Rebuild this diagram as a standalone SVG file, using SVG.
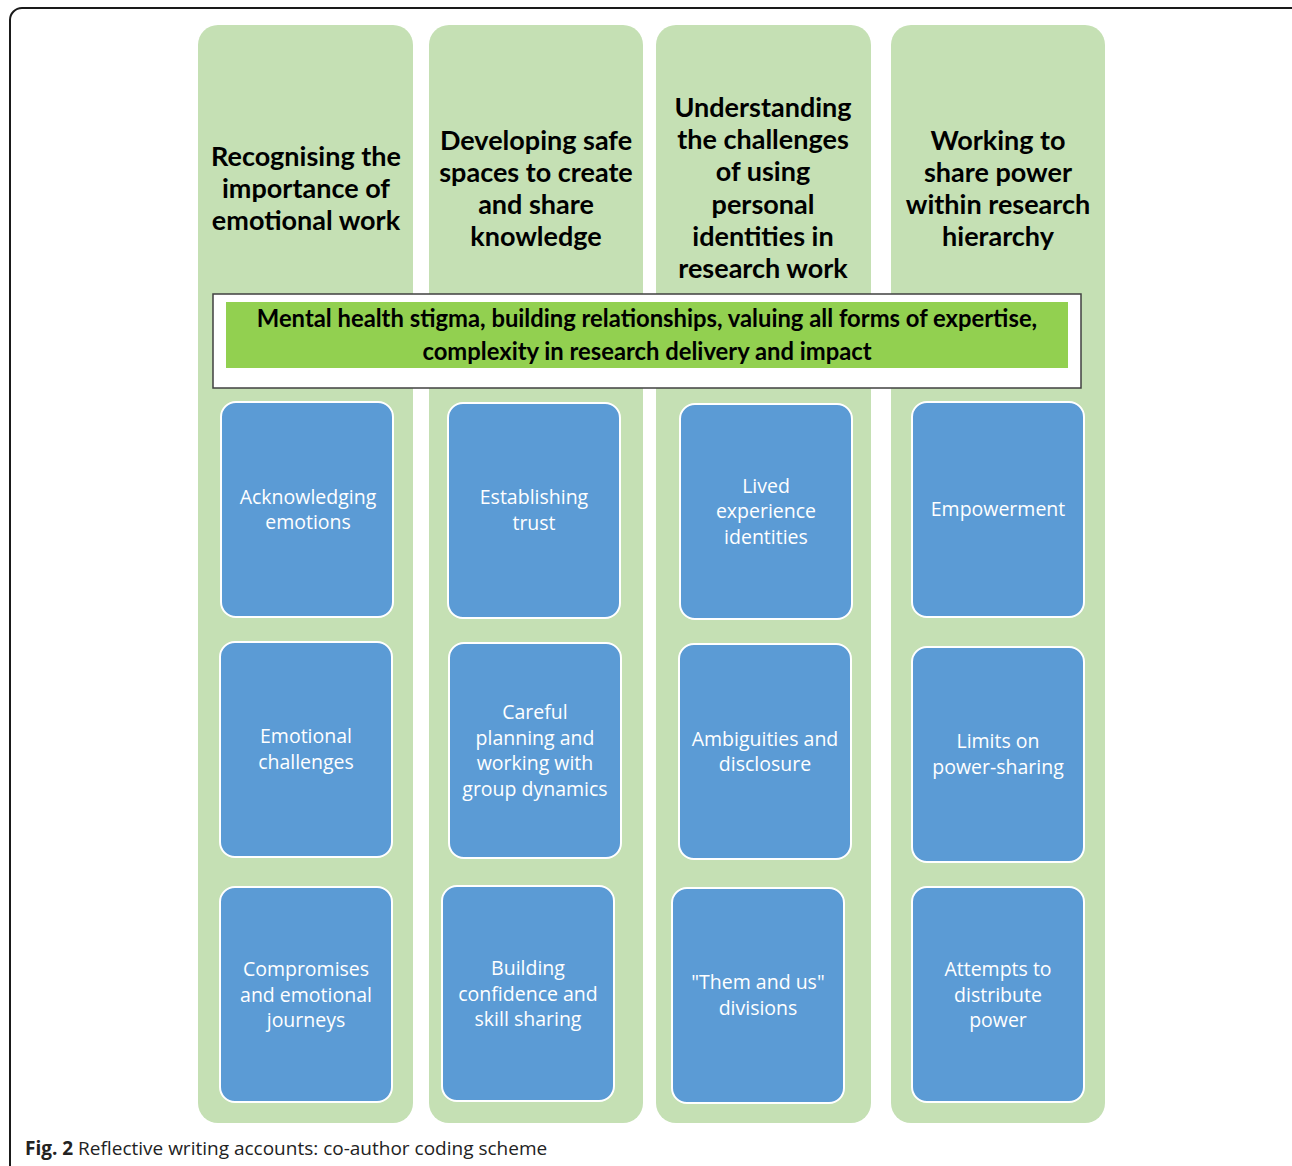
<svg xmlns="http://www.w3.org/2000/svg" width="1292" height="1166" viewBox="0 0 1292 1166">
<style>
.frame{fill:#fff;stroke:#1a1a1a;stroke-width:2}
.col{fill:#c5e0b4}
.box{fill:#5b9bd5;stroke:#fff;stroke-width:2}
.title{font-family:Lato,"Open Sans",sans-serif;font-weight:bold;font-size:27px;fill:#000;text-anchor:middle}
.lbl{font-family:"Open Sans","Noto Sans",sans-serif;font-size:19.5px;fill:#fff;text-anchor:middle}
.ban{font-family:Lato,"Open Sans",sans-serif;font-weight:bold;font-size:23.8px;fill:#000;text-anchor:middle}
.cap{font-family:"Open Sans","Noto Sans",sans-serif;font-size:19px;fill:#222}
</style>
<rect class="frame" x="10" y="8" width="1300" height="1170" rx="12"/>
<g id="col1">
<rect class="col" x="198" y="25" width="215" height="1098" rx="20"/>
<text class="title" x="306"><tspan x="306" y="166">Recognising the</tspan><tspan x="306" y="198">importance of</tspan><tspan x="306" y="230">emotional work</tspan></text>
</g>
<g id="col2">
<rect class="col" x="429" y="25" width="214" height="1098" rx="20"/>
<text class="title" x="536"><tspan x="536" y="150">Developing safe</tspan><tspan x="536" y="182">spaces to create</tspan><tspan x="536" y="214">and share</tspan><tspan x="536" y="246">knowledge</tspan></text>
</g>
<g id="col3">
<rect class="col" x="656" y="25" width="215" height="1098" rx="20"/>
<text class="title" x="763"><tspan x="763" y="117">Understanding</tspan><tspan x="763" y="149">the challenges</tspan><tspan x="763" y="181">of using</tspan><tspan x="763" y="214">personal</tspan><tspan x="763" y="246">identities in</tspan><tspan x="763" y="278">research work</tspan></text>
</g>
<g id="col4">
<rect class="col" x="891" y="25" width="214" height="1098" rx="20"/>
<text class="title" x="998"><tspan x="998" y="150">Working to</tspan><tspan x="998" y="182">share power</tspan><tspan x="998" y="214">within research</tspan><tspan x="998" y="246">hierarchy</tspan></text>
</g>
<g id="banner">
<rect x="213" y="294" width="868" height="94" fill="#fff" stroke="#404040" stroke-width="1.5"/>
<rect x="226" y="302" width="842" height="66" fill="#92d050"/>
<text class="ban"><tspan x="647" y="327">Mental health stigma, building relationships, valuing all forms of expertise,</tspan><tspan x="647" y="360">complexity in research delivery and impact</tspan></text>
</g>
<g id="n1a"><rect class="box" x="221" y="402" width="172" height="215" rx="15"/><text class="lbl"><tspan x="308" y="504">Acknowledging</tspan><tspan x="308" y="529">emotions</tspan></text></g>
<g id="n1b"><rect class="box" x="220" y="642" width="172" height="215" rx="15"/><text class="lbl"><tspan x="306" y="743">Emotional</tspan><tspan x="306" y="769">challenges</tspan></text></g>
<g id="n1c"><rect class="box" x="220" y="887" width="172" height="215" rx="15"/><text class="lbl"><tspan x="306" y="976">Compromises</tspan><tspan x="306" y="1002">and emotional</tspan><tspan x="306" y="1027">journeys</tspan></text></g>
<g id="n2a"><rect class="box" x="448" y="403" width="172" height="215" rx="15"/><text class="lbl"><tspan x="534" y="504">Establishing</tspan><tspan x="534" y="530">trust</tspan></text></g>
<g id="n2b"><rect class="box" x="449" y="643" width="172" height="215" rx="15"/><text class="lbl"><tspan x="535" y="719">Careful</tspan><tspan x="535" y="745">planning and</tspan><tspan x="535" y="770">working with</tspan><tspan x="535" y="796">group dynamics</tspan></text></g>
<g id="n2c"><rect class="box" x="442" y="886" width="172" height="215" rx="15"/><text class="lbl"><tspan x="528" y="975">Building</tspan><tspan x="528" y="1001">confidence and</tspan><tspan x="528" y="1026">skill sharing</tspan></text></g>
<g id="n3a"><rect class="box" x="680" y="404" width="172" height="215" rx="15"/><text class="lbl"><tspan x="766" y="493">Lived</tspan><tspan x="766" y="518">experience</tspan><tspan x="766" y="544">identities</tspan></text></g>
<g id="n3b"><rect class="box" x="679" y="644" width="172" height="215" rx="15"/><text class="lbl"><tspan x="765" y="746">Ambiguities and</tspan><tspan x="765" y="771">disclosure</tspan></text></g>
<g id="n3c"><rect class="box" x="672" y="888" width="172" height="215" rx="15"/><text class="lbl"><tspan x="758" y="989">"Them and us"</tspan><tspan x="758" y="1015">divisions</tspan></text></g>
<g id="n4a"><rect class="box" x="912" y="402" width="172" height="215" rx="15"/><text class="lbl"><tspan x="998" y="516">Empowerment</tspan></text></g>
<g id="n4b"><rect class="box" x="912" y="647" width="172" height="215" rx="15"/><text class="lbl"><tspan x="998" y="748">Limits on</tspan><tspan x="998" y="774">power-sharing</tspan></text></g>
<g id="n4c"><rect class="box" x="912" y="887" width="172" height="215" rx="15"/><text class="lbl"><tspan x="998" y="976">Attempts to</tspan><tspan x="998" y="1002">distribute</tspan><tspan x="998" y="1027">power</tspan></text></g>
<g id="connectors"/>
<text class="cap" x="25" y="1155"><tspan font-weight="bold">Fig. 2</tspan> Reflective writing accounts: co-author coding scheme</text>
</svg>
